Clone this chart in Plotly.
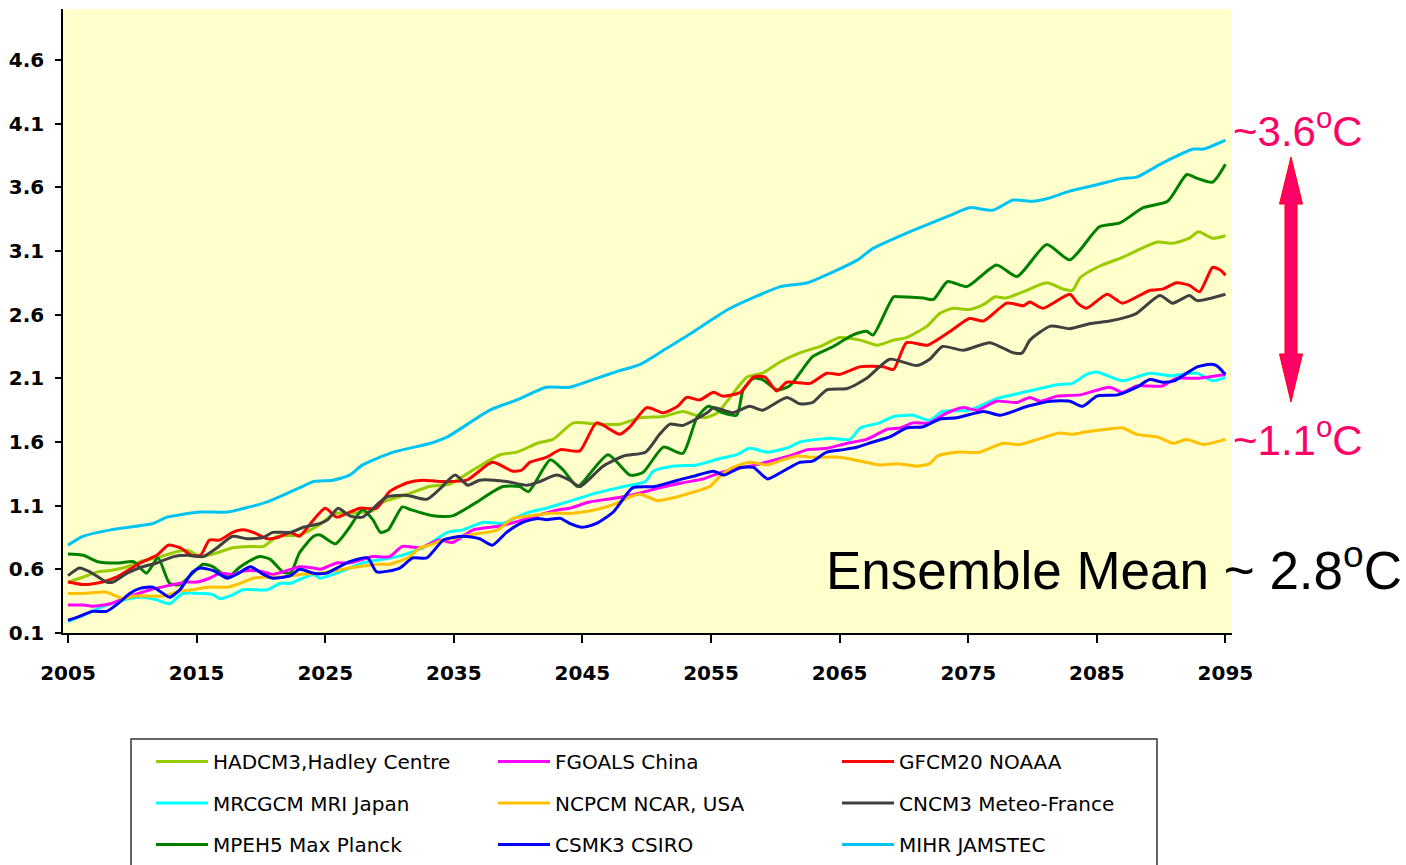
import plotly.graph_objects as go

# ---- model projections: years and warming (deg C) ----
hadcm3_years = [2005.0, 2006.2, 2007.3, 2008.3, 2009.6, 2010.6, 2011.9, 2013.5, 2014.3, 2015.3, 2016.6, 2017.8,
                2019.2, 2020.2, 2021.3, 2023.0, 2024.4, 2025.8, 2026.9, 2028.7, 2029.3, 2031.4, 2033.1, 2034.7,
                2036.5, 2038.6, 2039.9, 2041.5, 2042.7, 2044.3, 2046.1, 2047.9, 2049.5, 2051.3, 2052.8, 2054.5,
                2055.5, 2057.8, 2059.0, 2060.4, 2061.9, 2063.5, 2065.0, 2066.6, 2067.9, 2069.2, 2070.2, 2071.8,
                2072.8, 2073.8, 2075.1, 2076.2, 2077.1, 2077.9, 2079.3, 2081.1, 2082.4, 2083.1, 2083.7, 2085.2,
                2087.0, 2089.7, 2090.9, 2092.2, 2092.9, 2094.0, 2095.0]
hadcm3_temp = [0.50, 0.54, 0.58, 0.59, 0.62, 0.66, 0.69, 0.74, 0.75, 0.70, 0.73, 0.77,
               0.78, 0.78, 0.86, 0.87, 0.94, 1.04, 1.04, 1.06, 1.12, 1.19, 1.25, 1.27,
               1.38, 1.50, 1.52, 1.59, 1.62, 1.75, 1.74, 1.74, 1.79, 1.80, 1.84, 1.79,
               1.83, 2.11, 2.14, 2.23, 2.30, 2.35, 2.42, 2.40, 2.36, 2.40, 2.42, 2.51,
               2.61, 2.65, 2.64, 2.68, 2.74, 2.73, 2.78, 2.85, 2.80, 2.79, 2.89, 2.98,
               3.05, 3.17, 3.16, 3.20, 3.25, 3.20, 3.22]

fgoals_years = [2005.0, 2006.2, 2006.9, 2008.3, 2009.6, 2011.4, 2012.7, 2014.3, 2015.0, 2016.0, 2016.8, 2017.8,
                2018.9, 2020.2, 2020.9, 2022.3, 2023.0, 2024.1, 2024.6, 2025.9, 2026.9, 2028.7, 2030.0, 2031.0,
                2032.4, 2033.9, 2034.9, 2036.5, 2038.6, 2040.1, 2041.7, 2043.3, 2044.0, 2045.6, 2046.9, 2048.2,
                2049.5, 2051.0, 2052.8, 2054.4, 2055.2, 2056.5, 2058.0, 2059.6, 2061.4, 2062.5, 2064.0, 2065.6,
                2067.1, 2068.7, 2069.7, 2070.7, 2072.0, 2073.2, 2074.6, 2075.7, 2077.2, 2078.8, 2079.8, 2080.6,
                2081.9, 2083.7, 2086.0, 2087.0, 2088.1, 2090.1, 2091.2, 2092.8, 2095.0]
fgoals_temp = [0.32, 0.32, 0.31, 0.33, 0.38, 0.44, 0.47, 0.50, 0.50, 0.53, 0.57, 0.56,
               0.59, 0.58, 0.56, 0.60, 0.62, 0.61, 0.60, 0.65, 0.65, 0.70, 0.70, 0.78,
               0.77, 0.83, 0.81, 0.91, 0.94, 0.98, 1.03, 1.07, 1.08, 1.13, 1.15, 1.17,
               1.20, 1.24, 1.28, 1.31, 1.34, 1.38, 1.41, 1.45, 1.50, 1.54, 1.55, 1.59,
               1.62, 1.70, 1.71, 1.75, 1.75, 1.82, 1.87, 1.85, 1.92, 1.91, 1.95, 1.92,
               1.96, 1.97, 2.03, 1.99, 2.04, 2.04, 2.10, 2.10, 2.13]

gfcm20_years = [2005.0, 2006.2, 2007.7, 2008.8, 2010.6, 2011.9, 2012.8, 2013.7, 2014.6, 2015.3, 2016.0, 2016.8,
                2017.8, 2018.6, 2019.4, 2020.5, 2021.3, 2022.3, 2023.0, 2024.1, 2025.0, 2025.9, 2026.7, 2027.7,
                2029.0, 2030.0, 2031.4, 2032.6, 2033.9, 2036.0, 2038.0, 2039.6, 2040.3, 2040.9, 2042.2, 2043.3,
                2044.8, 2046.1, 2047.9, 2048.7, 2050.0, 2051.3, 2052.4, 2053.1, 2054.1, 2055.2, 2055.9, 2057.3,
                2058.3, 2059.2, 2060.1, 2060.9, 2062.7, 2064.0, 2065.0, 2066.6, 2068.4, 2069.2, 2070.2, 2071.8,
                2073.6, 2075.1, 2076.2, 2078.0, 2079.3, 2079.8, 2080.8, 2082.9, 2083.5, 2084.2, 2085.8, 2087.0,
                2089.1, 2090.1, 2091.2, 2092.2, 2093.0, 2094.0, 2094.6, 2095.0]
gfcm20_temp = [0.50, 0.48, 0.50, 0.54, 0.65, 0.71, 0.79, 0.77, 0.71, 0.71, 0.83, 0.83,
               0.89, 0.91, 0.89, 0.84, 0.85, 0.89, 0.86, 0.99, 1.08, 1.01, 1.04, 1.08,
               1.08, 1.21, 1.28, 1.30, 1.29, 1.30, 1.44, 1.37, 1.38, 1.44, 1.48, 1.54,
               1.53, 1.75, 1.66, 1.72, 1.87, 1.83, 1.88, 1.95, 1.93, 1.99, 1.96, 1.99,
               2.11, 2.11, 2.00, 2.07, 2.06, 2.14, 2.13, 2.19, 2.19, 2.17, 2.38, 2.36,
               2.47, 2.57, 2.55, 2.69, 2.67, 2.70, 2.65, 2.76, 2.69, 2.65, 2.76, 2.69,
               2.79, 2.80, 2.85, 2.83, 2.78, 2.97, 2.95, 2.91]

mrcgcm_years = [2005.0, 2006.2, 2007.5, 2009.0, 2009.8, 2010.8, 2011.9, 2012.9, 2013.9, 2015.5, 2016.3, 2016.8,
                2017.8, 2018.6, 2020.5, 2021.5, 2022.3, 2023.0, 2024.1, 2024.6, 2025.6, 2026.9, 2027.9, 2030.6,
                2032.6, 2034.5, 2035.7, 2037.3, 2038.8, 2039.9, 2040.9, 2042.2, 2043.5, 2044.8, 2046.1, 2048.2,
                2049.9, 2050.5, 2052.0, 2053.9, 2055.7, 2057.0, 2058.0, 2059.4, 2061.1, 2061.9, 2064.3, 2065.8,
                2066.6, 2068.1, 2069.2, 2070.7, 2072.0, 2073.0, 2075.1, 2077.2, 2079.3, 2081.9, 2083.1, 2084.2,
                2085.0, 2087.0, 2089.1, 2090.7, 2092.8, 2094.0, 2095.0]
mrcgcm_temp = [0.19, 0.24, 0.30, 0.35, 0.37, 0.38, 0.36, 0.33, 0.41, 0.41, 0.40, 0.37,
               0.40, 0.44, 0.44, 0.49, 0.49, 0.52, 0.56, 0.53, 0.56, 0.61, 0.65, 0.70,
               0.77, 0.89, 0.91, 0.97, 0.96, 1.01, 1.05, 1.08, 1.12, 1.16, 1.20, 1.25,
               1.29, 1.37, 1.41, 1.42, 1.47, 1.50, 1.55, 1.52, 1.56, 1.60, 1.63, 1.62,
               1.71, 1.75, 1.80, 1.81, 1.77, 1.84, 1.85, 1.94, 1.99, 2.05, 2.06, 2.13,
               2.15, 2.08, 2.14, 2.12, 2.14, 2.08, 2.11]

ncpcm_years = [2005.0, 2006.2, 2007.3, 2008.0, 2009.3, 2010.1, 2012.4, 2013.7, 2014.7, 2015.8, 2017.4, 2018.4,
               2019.4, 2020.5, 2021.7, 2023.0, 2024.6, 2026.9, 2029.0, 2030.0, 2031.4, 2032.4, 2033.1, 2034.2,
               2036.3, 2038.4, 2039.6, 2040.9, 2042.5, 2044.3, 2046.1, 2047.7, 2048.7, 2049.5, 2050.8, 2052.4,
               2053.4, 2054.9, 2055.7, 2056.7, 2058.0, 2059.4, 2060.6, 2061.7, 2062.9, 2065.0, 2066.6, 2068.1,
               2069.5, 2071.0, 2072.0, 2072.6, 2074.1, 2075.9, 2077.7, 2079.0, 2080.4, 2082.1, 2083.1, 2084.2,
               2085.8, 2087.0, 2088.1, 2089.7, 2090.9, 2092.0, 2093.3, 2095.0]
ncpcm_temp = [0.41, 0.41, 0.42, 0.42, 0.37, 0.39, 0.39, 0.43, 0.44, 0.46, 0.46, 0.49,
              0.53, 0.54, 0.54, 0.56, 0.57, 0.61, 0.64, 0.64, 0.69, 0.77, 0.79, 0.83,
              0.87, 0.91, 1.00, 1.02, 1.04, 1.04, 1.07, 1.12, 1.17, 1.19, 1.14, 1.17,
              1.20, 1.25, 1.33, 1.40, 1.44, 1.42, 1.46, 1.49, 1.48, 1.48, 1.45, 1.42,
              1.43, 1.41, 1.43, 1.49, 1.52, 1.52, 1.59, 1.58, 1.62, 1.67, 1.66, 1.68,
              1.70, 1.71, 1.66, 1.64, 1.59, 1.62, 1.58, 1.62]

cncm3_years = [2005.0, 2005.9, 2006.7, 2008.0, 2008.5, 2009.6, 2010.8, 2011.9, 2013.2, 2014.3, 2015.5, 2016.6,
               2017.8, 2018.9, 2020.2, 2020.9, 2022.3, 2023.3, 2024.6, 2025.2, 2026.0, 2026.9, 2027.9, 2029.8,
               2031.4, 2032.9, 2033.9, 2035.1, 2036.1, 2037.0, 2039.1, 2040.7, 2041.7, 2043.0, 2044.0, 2044.8,
               2046.6, 2048.2, 2049.9, 2051.0, 2051.8, 2052.8, 2054.7, 2055.2, 2056.7, 2058.0, 2059.0, 2060.9,
               2061.9, 2062.9, 2064.0, 2065.6, 2067.1, 2068.9, 2071.0, 2072.0, 2073.0, 2074.6, 2076.7, 2078.5,
               2079.2, 2079.8, 2081.4, 2082.9, 2084.5, 2086.0, 2087.3, 2088.1, 2089.9, 2090.9, 2092.2, 2092.8,
               2095.0]
cncm3_temp = [0.55, 0.61, 0.58, 0.50, 0.50, 0.57, 0.62, 0.65, 0.70, 0.71, 0.70, 0.77,
              0.86, 0.84, 0.85, 0.89, 0.89, 0.93, 0.96, 0.99, 1.08, 1.02, 1.01, 1.17,
              1.18, 1.15, 1.23, 1.34, 1.26, 1.30, 1.29, 1.26, 1.29, 1.34, 1.30, 1.25,
              1.41, 1.49, 1.52, 1.66, 1.74, 1.73, 1.83, 1.87, 1.83, 1.88, 1.85, 1.95,
              1.90, 1.91, 2.01, 2.02, 2.10, 2.25, 2.20, 2.25, 2.35, 2.32, 2.38, 2.30,
              2.30, 2.40, 2.51, 2.49, 2.53, 2.55, 2.58, 2.61, 2.75, 2.69, 2.75, 2.71,
              2.76]

mpeh5_years = [2005.0, 2006.2, 2007.3, 2009.0, 2010.1, 2011.1, 2012.0, 2012.9, 2013.7, 2014.7, 2015.5, 2016.3,
               2017.4, 2018.4, 2019.9, 2020.7, 2021.7, 2022.3, 2023.0, 2024.1, 2024.6, 2025.8, 2026.9, 2027.9,
               2028.7, 2029.3, 2029.9, 2031.0, 2031.6, 2033.4, 2034.9, 2036.5, 2038.8, 2040.1, 2040.8, 2042.5,
               2043.5, 2044.6, 2045.0, 2047.0, 2048.7, 2049.7, 2051.3, 2052.8, 2053.9, 2054.8, 2055.9, 2057.0,
               2057.5, 2058.3, 2059.0, 2060.1, 2061.1, 2062.9, 2064.5, 2066.0, 2067.1, 2067.6, 2069.2, 2069.7,
               2071.5, 2072.3, 2073.4, 2074.9, 2077.2, 2078.8, 2081.1, 2082.9, 2085.2, 2086.8, 2088.6, 2090.5,
               2092.0, 2092.8, 2094.0, 2095.0]
mpeh5_temp = [0.72, 0.71, 0.66, 0.65, 0.66, 0.57, 0.69, 0.49, 0.48, 0.57, 0.64, 0.62,
              0.54, 0.62, 0.70, 0.68, 0.58, 0.57, 0.73, 0.86, 0.87, 0.80, 0.93, 1.07,
              0.99, 0.89, 0.91, 1.09, 1.07, 1.02, 1.02, 1.11, 1.25, 1.25, 1.21, 1.46,
              1.38, 1.25, 1.28, 1.50, 1.34, 1.36, 1.56, 1.51, 1.79, 1.88, 1.83, 1.81,
              2.01, 2.10, 2.09, 2.01, 2.04, 2.27, 2.35, 2.44, 2.47, 2.44, 2.74, 2.74,
              2.73, 2.72, 2.86, 2.82, 2.99, 2.90, 3.15, 3.03, 3.29, 3.32, 3.44, 3.49,
              3.70, 3.67, 3.64, 3.78]

csmk3_years = [2005.0, 2005.9, 2006.9, 2008.0, 2009.0, 2009.8, 2010.6, 2011.6, 2012.4, 2012.9, 2013.7, 2014.7,
               2015.3, 2016.3, 2017.4, 2018.1, 2019.2, 2020.2, 2020.9, 2022.3, 2023.0, 2024.1, 2025.1, 2025.9,
               2026.9, 2028.3, 2029.0, 2030.8, 2031.8, 2032.9, 2034.2, 2035.7, 2037.0, 2038.0, 2039.1, 2040.4,
               2041.5, 2042.2, 2043.3, 2044.0, 2045.0, 2046.1, 2047.4, 2048.9, 2050.6, 2052.4, 2053.6, 2055.2,
               2056.0, 2057.3, 2058.3, 2059.4, 2060.6, 2061.9, 2062.9, 2064.0, 2065.3, 2066.4, 2067.6, 2068.9,
               2070.2, 2071.5, 2072.8, 2074.1, 2076.2, 2077.5, 2079.6, 2081.4, 2082.9, 2083.9, 2085.0, 2086.6,
               2088.1, 2089.1, 2090.1, 2091.0, 2092.8, 2093.8, 2094.3, 2095.0]
csmk3_temp = [0.20, 0.23, 0.27, 0.27, 0.34, 0.41, 0.45, 0.46, 0.41, 0.38, 0.44, 0.58,
              0.61, 0.59, 0.53, 0.56, 0.62, 0.56, 0.53, 0.55, 0.60, 0.57, 0.57, 0.61,
              0.66, 0.69, 0.58, 0.61, 0.69, 0.69, 0.83, 0.86, 0.84, 0.79, 0.89, 0.97,
              1.00, 0.99, 1.00, 0.96, 0.93, 0.96, 1.05, 1.24, 1.25, 1.30, 1.33, 1.37,
              1.34, 1.40, 1.40, 1.31, 1.37, 1.44, 1.45, 1.52, 1.54, 1.56, 1.60, 1.64,
              1.71, 1.72, 1.78, 1.79, 1.84, 1.81, 1.88, 1.92, 1.92, 1.88, 1.96, 1.97,
              2.03, 2.09, 2.07, 2.08, 2.19, 2.21, 2.20, 2.13]

mihr_years = [2005.0, 2006.2, 2008.3, 2011.6, 2012.7, 2015.3, 2017.4, 2020.5, 2023.0, 2024.1, 2025.6, 2026.9,
              2027.9, 2030.3, 2033.2, 2034.5, 2037.8, 2039.9, 2042.2, 2044.0, 2046.1, 2047.9, 2049.5, 2051.3,
              2053.4, 2055.2, 2056.5, 2060.4, 2062.5, 2066.4, 2067.6, 2070.2, 2073.6, 2075.1, 2076.9, 2078.5,
              2080.0, 2081.1, 2082.9, 2085.0, 2087.0, 2088.1, 2090.1, 2092.5, 2093.3, 2095.0]
mihr_temp = [0.79, 0.86, 0.91, 0.96, 1.01, 1.05, 1.05, 1.13, 1.24, 1.29, 1.30, 1.34,
             1.42, 1.52, 1.59, 1.64, 1.85, 1.93, 2.03, 2.03, 2.10, 2.16, 2.21, 2.32,
             2.45, 2.57, 2.65, 2.82, 2.85, 3.03, 3.12, 3.24, 3.38, 3.44, 3.42, 3.50,
             3.49, 3.51, 3.57, 3.62, 3.67, 3.68, 3.79, 3.90, 3.90, 3.97]

# ---- axes ----
x_ticks = [2005, 2015, 2025, 2035, 2045, 2055, 2065, 2075, 2085, 2095]
y_ticks = [0.1, 0.6, 1.1, 1.6, 2.1, 2.6, 3.1, 3.6, 4.1, 4.6]
y_tick_labels = ["0.1", "0.6", "1.1", "1.6", "2.1", "2.6", "3.1", "3.6", "4.1", "4.6"]

# ---- legend columns (name, years, values, colour) ----
column_1 = [("HADCM3,Hadley Centre", hadcm3_years, hadcm3_temp, "#99CC00"),
            ("MRCGCM MRI Japan", mrcgcm_years, mrcgcm_temp, "#00FFFF"),
            ("MPEH5 Max Planck", mpeh5_years, mpeh5_temp, "#008000")]
column_2 = [("FGOALS China", fgoals_years, fgoals_temp, "#FF00FF"),
            ("NCPCM NCAR, USA", ncpcm_years, ncpcm_temp, "#FFC000"),
            ("CSMK3 CSIRO", csmk3_years, csmk3_temp, "#0000FF")]
column_3 = [("GFCM20 NOAAA", gfcm20_years, gfcm20_temp, "#FF0000"),
            ("CNCM3 Meteo-France", cncm3_years, cncm3_temp, "#404040"),
            ("MIHR JAMSTEC", mihr_years, mihr_temp, "#00C3F5")]

W, H = 1406, 865
PLOT_L, PLOT_R, PLOT_T, PLOT_B = 63, 1232, 9, 633


def fx(px):
    """page pixel x -> paper x"""
    return (px - PLOT_L) / (PLOT_R - PLOT_L)


def fy(py):
    """page pixel y -> paper y"""
    return (PLOT_B - py) / (PLOT_B - PLOT_T)


fig = go.Figure()
legend_ids = ["legend", "legend2", "legend3"]
for legend_id, column in zip(legend_ids, [column_1, column_2, column_3]):
    for name, xs, ys, colour in column:
        fig.add_trace(go.Scatter(
            x=xs, y=ys, name=name, mode="lines",
            line=dict(color=colour, width=3, shape="spline", smoothing=0.6),
            legend=legend_id, legendgroup=name,
        ))

legend_font = dict(family="DejaVu Sans", size=20, color="#000000")
legend_common = dict(
    font=legend_font, bgcolor="rgba(0,0,0,0)", borderwidth=0,
    orientation="v", tracegroupgap=12.5, itemwidth=52,
    xanchor="left", yanchor="top", yref="paper", y=fy(742),
)
tick_font = dict(family="DejaVu Sans", size=20, color="#000000", weight="bold")

fig.update_layout(
    width=W, height=H,
    margin=dict(l=PLOT_L, r=W - PLOT_R, t=PLOT_T, b=H - PLOT_B, pad=0, autoexpand=False),
    paper_bgcolor="#FFFFFF",
    plot_bgcolor="#FFFFCC",
    showlegend=True,
    legend=dict(x=fx(151), **legend_common),
    legend2=dict(x=fx(493), **legend_common),
    legend3=dict(x=fx(837), **legend_common),
    xaxis=dict(
        range=[2004.61, 2095.51], tickmode="array", tickvals=x_ticks,
        ticktext=[str(v) for v in x_ticks], automargin=False,
        showgrid=False, zeroline=False, showline=True, linecolor="#000000", linewidth=1.5,
        ticks="outside", ticklen=8, tickwidth=1.5, tickcolor="#000000",
        tickfont=tick_font, ticklabelstandoff=13,
    ),
    yaxis=dict(
        range=[0.1, 5.0], tickmode="array", tickvals=y_ticks, ticktext=y_tick_labels,
        automargin=False,
        showgrid=False, zeroline=False, showline=True, linecolor="#000000", linewidth=1.5,
        ticks="outside", ticklen=6, tickwidth=1.5, tickcolor="#000000",
        tickfont=tick_font, ticklabelstandoff=7,
    ),
)

# legend frame
fig.add_shape(type="rect", xref="paper", yref="paper",
              x0=fx(131), x1=fx(1157), y0=fy(880), y1=fy(739),
              line=dict(color="#333333", width=1.5), fillcolor="rgba(0,0,0,0)", layer="above")

# double-headed range arrow
ax_c, shaft_half, head_half = 1291, 6, 11.5
top_tip, top_base, bot_base, bot_tip = 157, 204, 354, 402
arrow_pts = [
    (ax_c, top_tip), (ax_c + head_half, top_base), (ax_c + shaft_half, top_base),
    (ax_c + shaft_half, bot_base), (ax_c + head_half, bot_base), (ax_c, bot_tip),
    (ax_c - head_half, bot_base), (ax_c - shaft_half, bot_base), (ax_c - shaft_half, top_base),
    (ax_c - head_half, top_base),
]
path = "M " + " L ".join(f"{fx(px):.5f},{fy(py):.5f}" for px, py in arrow_pts) + " Z"
fig.add_shape(type="path", xref="paper", yref="paper", path=path,
              fillcolor="#FF0066", line=dict(color="#FF0000", width=1))

pink = "#FF0066"
label_font = "Liberation Sans, Arial, sans-serif"
fig.add_annotation(text="~3.6<sup>o</sup>C", xref="paper", yref="paper",
                   x=fx(1231), y=fy(128), xanchor="left", yanchor="middle", showarrow=False,
                   font=dict(family=label_font, size=42, color=pink))
fig.add_annotation(text="~1.1<sup>o</sup>C", xref="paper", yref="paper",
                   x=fx(1231), y=fy(437), xanchor="left", yanchor="middle", showarrow=False,
                   font=dict(family=label_font, size=42, color=pink))
fig.add_annotation(text="Ensemble Mean ~ 2.8<sup>o</sup>C", xref="paper", yref="paper",
                   x=fx(824), y=fy(566), xanchor="left", yanchor="middle", showarrow=False,
                   font=dict(family=label_font, size=53, color="#000000"))

fig.write_html("out.html")
